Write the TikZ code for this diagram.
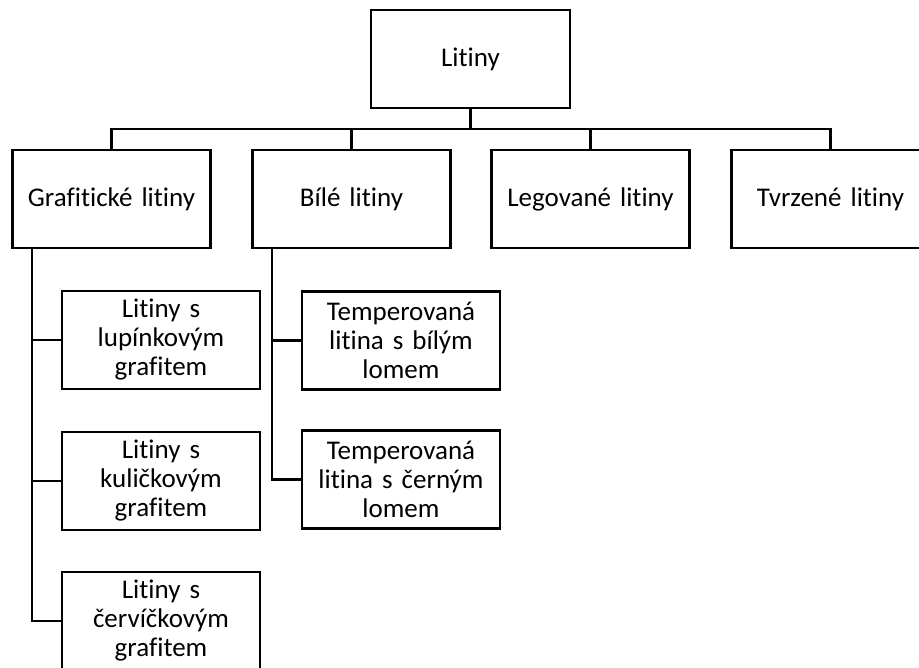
\documentclass[tikz,border=0pt]{standalone}
\usepackage{fontspec}
\setmainfont{Carlito}[Ligatures={NoCommon}]
\begin{document}
\begin{tikzpicture}[x=1pt,y=-1pt,
  box/.style={draw=black,line width=2.2pt,fill=white,minimum width=198pt,minimum height=98pt,
    inner sep=2pt,align=center,font=\fontsize{27}{29}\selectfont,text width=192pt},
  link/.style={draw=black,line width=2.2pt}]
\useasboundingbox (0,0) rectangle (919,668);
\clip (0,0) rectangle (919,668);
\node[box,minimum width=199pt] (top) at (470.5,59) {Litiny};
\node[box] (g) at (111.5,199) {Grafitické litiny};
\node[box] (b) at (351.5,199) {Bílé litiny};
\node[box] (l) at (590.5,199) {Legované litiny};
\node[box] (t) at (830.5,199) {Tvrzené litiny};
\node[box] (g1) at (161,340) {Litiny s\\lupínkovým\\grafitem};
\node[box] (g2) at (161,481) {Litiny s\\kuličkovým\\grafitem};
\node[box] (g3) at (161,621) {Litiny s\\červíčkovým\\grafitem};
\node[box] (b1) at (401,340.5) {Temperovaná\\litina s bílým\\lomem};
\node[box] (b2) at (401,479.5) {Temperovaná\\litina s černým\\lomem};
\coordinate (bar) at (470.5,129);
\coordinate (gt) at (32,248);
\coordinate (bt) at (272,248);
\draw[link,line width=3.2pt] (top.south) -- (bar);
\draw[link] (top.south |- bar) -| (g.north);
\draw[link] (top.south |- bar) -| (b.north);
\draw[link] (top.south |- bar) -| (l.north);
\draw[link] (top.south |- bar) -| (t.north);
\draw[link] (gt) |- (g1.west);
\draw[link] (gt) |- (g2.west);
\draw[link] (gt) |- (g3.west);
\draw[link] (bt) |- (b1.west);
\draw[link] (bt) |- (b2.west);
\end{tikzpicture}
\end{document}
